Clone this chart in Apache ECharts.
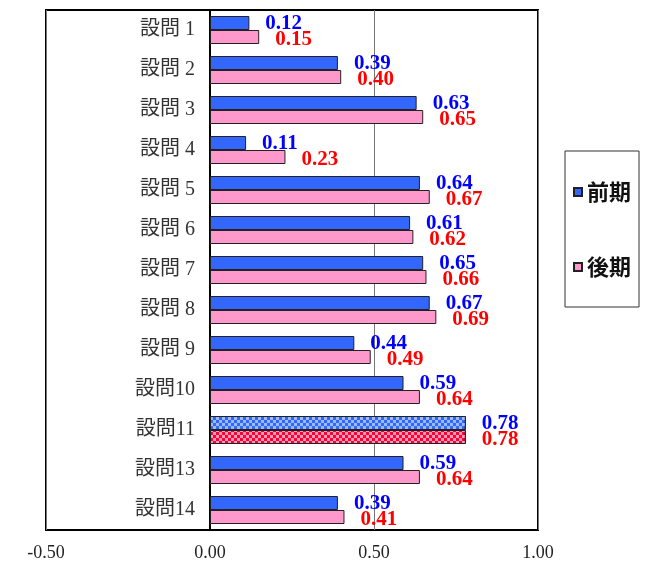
<!DOCTYPE html>
<html>
<head>
<meta charset="utf-8">
<script src="https://cdn.jsdelivr.net/npm/echarts@6/dist/echarts.min.js"></script>
<style>
html,body{margin:0;padding:0;background:#fff;}
#chart{width:652px;height:563px;}
</style>
</head>
<body>
<div id="chart"></div>
<script>
const categories = ['設問 1','設問 2','設問 3','設問 4','設問 5','設問 6','設問 7','設問 8','設問 9','設問10','設問11','設問13','設問14'];
const seriesNames = ['前期','後期'];
const zenki = [0.12,0.39,0.63,0.11,0.64,0.61,0.65,0.67,0.44,0.59,0.78,0.59,0.39];
const kouki = [0.15,0.40,0.65,0.23,0.67,0.62,0.66,0.69,0.49,0.64,0.78,0.64,0.41];
const xTicks = [-0.5, 0, 0.5, 1.0];
const patternIndex = 10;

const SERIF = '"Liberation Serif", "Noto Sans CJK JP", serif';
const GRID_LEFT = 46, GRID_RIGHT = 114;
const PLOT_W = 652 - GRID_LEFT - GRID_RIGHT;
const XMIN = xTicks[0], XMAX = xTicks[xTicks.length - 1];

function buildData(values, baseColor, decalColor) {
  return values.map((v, i) => {
    if (i !== patternIndex) return v;
    return {
      value: v,
      itemStyle: {
        color: baseColor,
        decal: {
          symbol: 'rect',
          symbolSize: 1,
          color: decalColor,
          dashArrayX: [[3, 3], [0, 3, 3, 0]],
          dashArrayY: [3, 0],
          rotation: 0
        }
      }
    };
  });
}

const chart = echarts.init(document.getElementById('chart'));
chart.setOption({
  animation: false,
  backgroundColor: '#fff',
  grid: {
    left: GRID_LEFT, right: GRID_RIGHT, top: 10, bottom: 33,
    containLabel: false, outerBoundsMode: 'none',
    show: true, borderColor: '#000', borderWidth: 2, backgroundColor: 'transparent'
  },
  legend: {
    orient: 'vertical',
    left: 565, top: 151,
    padding: [30, 8, 29, 8],
    itemGap: 53,
    itemWidth: 8, itemHeight: 8,
    itemTextGap: 9,
    borderColor: '#333', borderWidth: 1,
    icon: 'rect',
    textStyle: { fontFamily: '"Noto Sans CJK JP", sans-serif', fontSize: 22, fontWeight: 'bold', color: '#111' },
    data: seriesNames
  },
  xAxis: {
    type: 'value',
    min: XMIN, max: XMAX, interval: 0.5,
    axisLine: { show: false },
    axisTick: { show: false },
    splitLine: { show: true, lineStyle: { color: '#777', width: 1 } },
    axisLabel: {
      margin: 14,
      fontFamily: SERIF, fontSize: 18, color: '#222',
      formatter: v => v.toFixed(2)
    }
  },
  yAxis: {
    type: 'category',
    inverse: true,
    data: categories,
    position: 'left',
    offset: -Math.round((0 - XMIN) / (XMAX - XMIN) * PLOT_W),
    axisLine: { show: true, onZero: false, lineStyle: { color: '#000', width: 2 } },
    axisTick: { show: false },
    axisLabel: { margin: 15, fontFamily: SERIF, fontSize: 20, color: '#333' }
  },
  series: [
    {
      name: seriesNames[0], type: 'bar',
      barWidth: 14, barGap: '0%',
      data: buildData(zenki, '#3366ff', '#99bbff'),
      itemStyle: { color: '#3366ff', borderColor: '#222', borderWidth: 1 },
      label: {
        show: true, position: 'right', distance: 16, offset: [0, 1],
        fontFamily: SERIF, fontSize: 21, fontWeight: 'bold', color: '#0000ff',
        formatter: p => p.value.toFixed(2)
      }
    },
    {
      name: seriesNames[1], type: 'bar',
      barWidth: 14,
      data: buildData(kouki, '#ff0033', '#ff99bb'),
      itemStyle: { color: '#ff99cc', borderColor: '#222', borderWidth: 1 },
      label: {
        show: true, position: 'right', distance: 16, offset: [0, 3],
        fontFamily: SERIF, fontSize: 21, fontWeight: 'bold', color: '#ff0000',
        formatter: p => p.value.toFixed(2)
      }
    }
  ]
});
</script>
</body>
</html>
